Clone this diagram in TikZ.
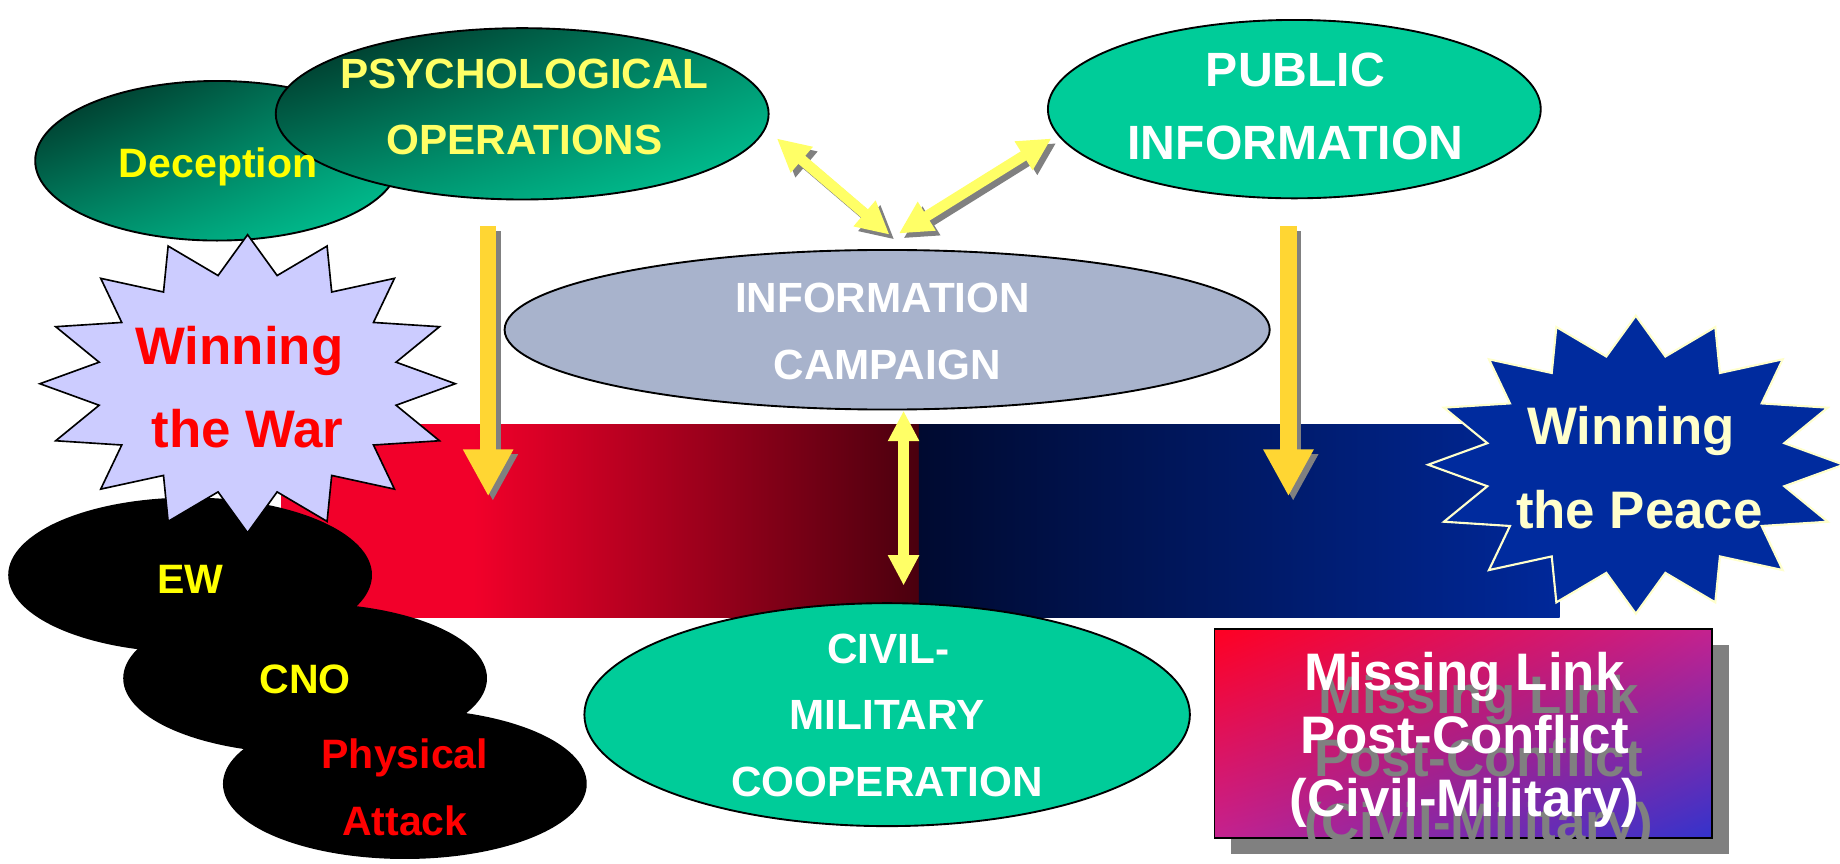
\documentclass[tikz,border=0pt]{standalone}
\usepackage{fontspec}
\setmainfont{Liberation Sans}
\usetikzlibrary{shapes.geometric,arrows.meta,shadings}
\definecolor{grn}{HTML}{00CC99}
\definecolor{dkgrn}{HTML}{00281E}
\definecolor{midgrn}{HTML}{008A68}
\definecolor{infobg}{HTML}{A8B3CC}
\definecolor{lav}{HTML}{CCCCFF}
\definecolor{peace}{HTML}{002B9E}
\definecolor{cream}{HTML}{FFFFCC}
\definecolor{gold}{HTML}{FFD633}
\definecolor{pale}{HTML}{FFFF66}
\definecolor{shad}{HTML}{808080}
\definecolor{redL}{HTML}{F2002A}
\definecolor{redR}{HTML}{4A000E}
\definecolor{bluL}{HTML}{000A30}
\definecolor{bluR}{HTML}{00289A}
\definecolor{mlA}{HTML}{FF0022}
\definecolor{mlB}{HTML}{C4228F}
\definecolor{mlC}{HTML}{3333CC}
\definecolor{yel}{HTML}{FFFF00}
\definecolor{red0}{HTML}{FF0000}
\pgfdeclarehorizontalshading{redbar}{100bp}{color(0bp)=(redL); color(40bp)=(redL); color(75bp)=(redR); color(100bp)=(redR)}
\begin{document}
\begin{tikzpicture}[x=1pt,y=-1pt,
  oval/.style={ellipse, draw=black, line width=1.6pt, inner sep=0pt},
  greenshade/.style={upper left=dkgrn, upper right=midgrn, lower left=midgrn, lower right=grn},
  blackoval/.style={ellipse, fill=black, inner sep=0pt, minimum width=310pt},
  txt/.style={anchor=base, inner sep=0pt, font=\bfseries\fontsize{#1pt}{#1pt}\selectfont},
  goldarrow/.style={line width=14pt, -{Triangle[width=40pt,length=40pt]}},
  palearrow/.style={line width=9pt, {Triangle[width=27pt,length=28pt]}-{Triangle[width=27pt,length=28pt]}},
  vertarrow/.style={line width=9pt, {Triangle[width=25pt,length=26pt]}-{Triangle[width=25pt,length=26pt]}},
]
\useasboundingbox (0,0) rectangle (1568,736);
\fill[white] (0,0) rectangle (1568,736);

% bars
\shade[shading=redbar] (240,362) rectangle (783,526);
\shade[left color=bluL, right color=bluR] (783,362) rectangle (1329,526);

% coordinates for arrows
\coordinate (psyA) at (416,193);
\coordinate (psyB) at (416,423);
\coordinate (pubA) at (1098,193);
\coordinate (pubB) at (1098,423);
\coordinate (dlA) at (662,118);
\coordinate (dlB) at (758,200);
\coordinate (drA) at (896,118);
\coordinate (drB) at (766,199);
\coordinate (vA) at (770,350);
\coordinate (vB) at (770,499);

% gold down arrows with shadows
\draw[goldarrow, draw=shad] ([shift={(4,4)}]psyA) -- ([shift={(4,4)}]psyB);
\draw[goldarrow, draw=gold] (psyA) -- (psyB);
\draw[goldarrow, draw=shad] ([shift={(4,4)}]pubA) -- ([shift={(4,4)}]pubB);
\draw[goldarrow, draw=gold] (pubA) -- (pubB);

% ellipses
\node[oval, fill=infobg, minimum width=652pt, minimum height=136pt] (info) at (756,281) {};
\node[oval, fill=grn, minimum width=516pt, minimum height=190pt] (cimic) at (756,609) {};
\draw[vertarrow, draw=pale] (vA) -- (vB);

% diagonal arrows
\draw[palearrow, draw=shad] ([shift={(4,4)}]dlA) -- ([shift={(4,4)}]dlB);
\draw[palearrow, draw=pale] (dlA) -- (dlB);
\draw[palearrow, draw=shad] ([shift={(4,4)}]drA) -- ([shift={(4,4)}]drB);
\draw[palearrow, draw=pale] (drA) -- (drB);

\node[oval, greenshade, minimum width=310pt, minimum height=136pt] (decep) at (185,137) {};
\node[oval, greenshade, minimum width=420pt, minimum height=146pt] (psyop) at (445,97) {};
\node[oval, fill=grn, minimum width=420pt, minimum height=152pt] (pubinfo) at (1103,93) {};

% black ellipses
\node[blackoval, minimum height=132pt] (ew) at (162,490) {};
\node[blackoval, minimum height=128pt] (cno) at (260,578) {};
\node[blackoval, minimum height=128pt] (pa) at (345,668) {};

% stars
\draw[fill=lav, draw=black, line width=1.4pt, line join=miter, shift={(211,327)}]
  (90:177 and 127) \foreach \i in {0,...,15}{ -- ({101.25+\i*22.5}:129 and 94) -- ({112.5+\i*22.5}:177 and 127)} -- cycle;
\draw[fill=peace, draw=cream, line width=1.8pt, line join=miter, shift={(1394,396)}]
  (90:177 and 127) \foreach \i in {0,...,15}{ -- ({101.25+\i*22.5}:129 and 94) -- ({112.5+\i*22.5}:177 and 127)} -- cycle;

% missing link box
\fill[shad] (1049,550) rectangle (1473,728);
\shade[upper left=mlA, upper right=mlB, lower left=mlB, lower right=mlC] (1035,536) rectangle (1459,714);
\draw[black, line width=1.4pt] (1035,536) rectangle (1459,714);

% texts
\node[txt=35, text=yel] (decT) at (186,151) {Deception};
\node[txt=36, text=pale] (psyT1) at (447,75) {PSYCHOLOGICAL};
\node[txt=36, text=pale] (psyT2) at (447,132) {OPERATIONS};
\node[txt=41, text=white] (pubT1) at (1104,74) {PUBLIC};
\node[txt=41, text=white] (pubT2) at (1104,136) {INFORMATION};
\node[txt=36, text=white] (infoT1) at (752,266) {INFORMATION};
\node[txt=36, text=white] (infoT2) at (756,323) {CAMPAIGN};
\node[txt=36, text=white] (cimT1) at (757,565) {CIVIL-};
\node[txt=36, text=white] (cimT2) at (756,622) {MILITARY};
\node[txt=36, text=white] (cimT3) at (756,679) {COOPERATION};
\node[txt=35, text=yel] (ewT) at (162,506) {EW};
\node[txt=35, text=yel] (cnoT) at (260,591) {CNO};
\node[txt=35, text=red0] (paT1) at (345,655) {Physical};
\node[txt=35, text=red0] (paT2) at (345,712) {Attack};
\node[txt=45, text=red0] (warT1) at (204,311) {Winning};
\node[txt=45, text=red0] (warT2) at (211,381) {the War};
\node[txt=45, text=cream] (peaceT1) at (1390,379) {Winning};
\node[txt=45, text=cream] (peaceT2) at (1397,450) {the Peace};
\node[txt=45, text=shad] (mlS1) at (1260,608) {Missing Link};
\node[txt=45, text=shad] (mlS2) at (1260,662) {Post-Conflict};
\node[txt=45, text=shad] (mlS3) at (1260,716) {(Civil-Military)};
\node[txt=45, text=white] (mlT1) at (1248,588) {Missing Link};
\node[txt=45, text=white] (mlT2) at (1248,642) {Post-Conflict};
\node[txt=45, text=white] (mlT3) at (1248,696) {(Civil-Military)};
\end{tikzpicture}
\end{document}
